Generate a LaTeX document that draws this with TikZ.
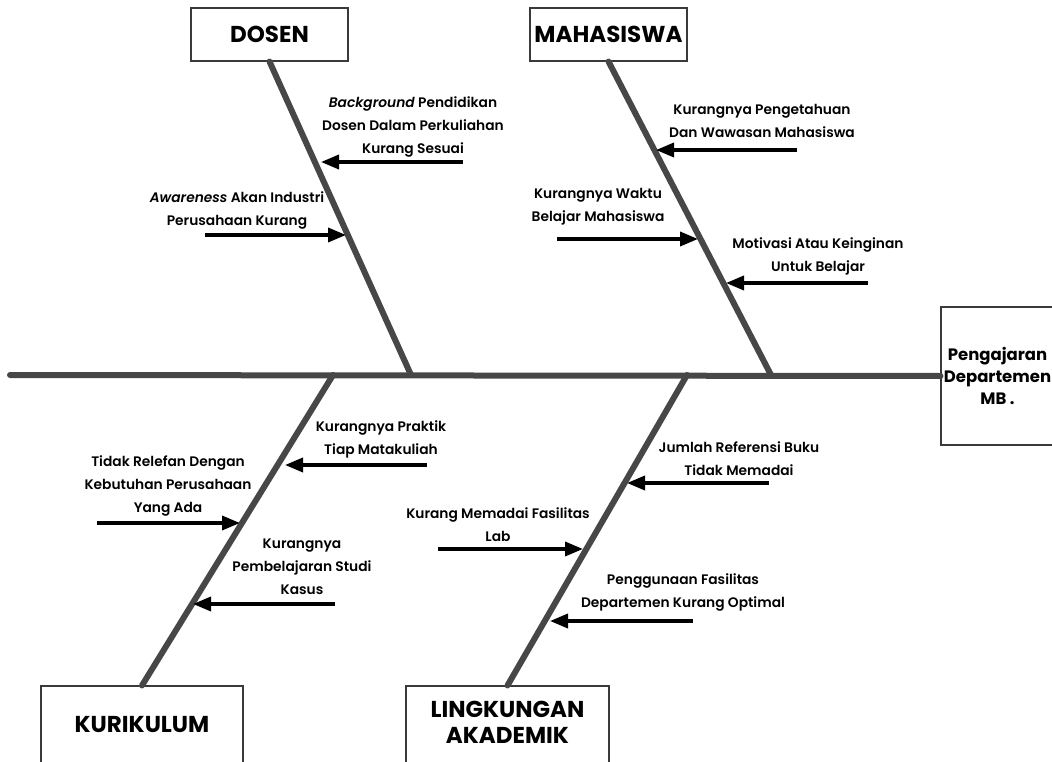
\documentclass[tikz,border=0pt]{standalone}
\usepackage{fontspec}
\setmainfont{Poppins}
\IfFontExistsTF{Poppins SemiBold}{%
  \newfontfamily\lblfont{Poppins SemiBold}}{%
  \newfontfamily\lblfont{Poppins}[UprightFont=*, ItalicFont=*, UprightFeatures={FakeBold=1.2}, ItalicFeatures={FakeBold=1.2, FakeSlant=0.2}]}
\usetikzlibrary{arrows.meta}
\definecolor{bonegray}{HTML}{474747}
\definecolor{boxgray}{HTML}{3A3A3A}
\begin{document}
\begin{tikzpicture}[x=1pt,y=-1pt,
  bone/.style={line width=6pt, draw=bonegray, line cap=round},
  cause/.style={line width=3.5pt, draw=black, -{Triangle[length=18pt,width=14pt]}},
  lbl/.style={align=center, font=\lblfont\fontsize{13.8}{23}\selectfont, inner sep=0pt},
  catbox/.style={draw=boxgray, line width=1.1pt, fill=white, inner sep=0pt, align=center,
    font=\fontsize{23}{26}\selectfont\bfseries},
  cattext/.style={inner sep=0pt, align=center, font=\fontsize{23}{26}\selectfont\bfseries},
  effbox/.style={draw=boxgray, line width=1.1pt, fill=white, inner sep=0pt, align=center,
    font=\fontsize{16.5}{22}\selectfont\bfseries}]
\clip (0,0) rectangle (1052,762);
\fill[white] (0,0) rectangle (1052,762);

% category boxes
\node[catbox, minimum width=157pt, minimum height=53pt] (dosen) at (269.5,34.5) {DOSEN};
\node[catbox, minimum width=157pt, minimum height=53pt] (mhs) at (608.5,34.5) {MAHASISWA};
\node[catbox, minimum width=202pt, minimum height=90pt] (kur) at (142,731) {};
\node[cattext] (kurT) at (142,725) {KURIKULUM};
\node[catbox, minimum width=203pt, minimum height=90pt] (lingk) at (507.5,731) {};
\node[cattext] (lingkT) at (507.5,722) {LINGKUNGAN\\AKADEMIK};
\node[effbox, minimum width=113pt, minimum height=138pt] (eff) at (997.5,376) {Pengajaran\\Departemen\\MB .};

% spine and bones
\coordinate (tail) at (10,375);
\coordinate (jD) at (411,375);
\coordinate (jM) at (771,375);
\coordinate (jK) at (333,375);
\coordinate (jL) at (687,375);
\draw[bone] (tail) -- (eff.west);
\draw[bone] (dosen.south) -- (jD);
\draw[bone] (mhs.south) -- (jM);
\draw[bone] (jK) -- (kur.north);
\draw[bone] (jL) -- (lingk.north);

% DOSEN causes
\node[lbl] (t1) at (413,127) {\textit{Background} Pendidikan\\Dosen Dalam Perkuliahan\\Kurang Sesuai};
\coordinate (a1s) at (463,162); \coordinate (a1e) at (321,162);
\draw[cause] (a1s) -- (a1e);
\node[lbl] (t2) at (237,210.5) {\textit{Awareness} Akan Industri\\Perusahaan Kurang};
\coordinate (a2s) at (205,235); \coordinate (a2e) at (346,235);
\draw[cause] (a2s) -- (a2e);

% MAHASISWA causes
\node[lbl] (t3) at (762,120.5) {Kurangnya Pengetahuan\\Dan Wawasan Mahasiswa};
\coordinate (a3s) at (797,150); \coordinate (a3e) at (656,150);
\draw[cause] (a3s) -- (a3e);
\node[lbl] (t4) at (598,207) {Kurangnya Waktu\\Belajar Mahasiswa};
\coordinate (a4s) at (557,239); \coordinate (a4e) at (698,239);
\draw[cause] (a4s) -- (a4e);
\node[lbl] (t5) at (818,256.5) {Motivasi Atau Keinginan\\Untuk Belajar};
\coordinate (a5s) at (868,283); \coordinate (a5e) at (726,283);
\draw[cause] (a5s) -- (a5e);

% KURIKULUM causes
\node[lbl] (t6) at (381,439.5) {Kurangnya Praktik\\Tiap Matakuliah};
\coordinate (a6s) at (427,465); \coordinate (a6e) at (285,465);
\draw[cause] (a6s) -- (a6e);
\node[lbl] (t7) at (168,485.5) {Tidak Relefan Dengan\\Kebutuhan Perusahaan\\Yang Ada};
\coordinate (a7s) at (97,523); \coordinate (a7e) at (240,523);
\draw[cause] (a7s) -- (a7e);
\node[lbl] (t8) at (302,566.5) {Kurangnya\\Pembelajaran Studi\\Kasus};
\coordinate (a8s) at (335,604); \coordinate (a8e) at (193,604);
\draw[cause] (a8s) -- (a8e);

% LINGKUNGAN causes
\node[lbl] (t9) at (739,458.5) {Jumlah Referensi Buku\\Tidak Memadai};
\coordinate (a9s) at (769,483); \coordinate (a9e) at (627,483);
\draw[cause] (a9s) -- (a9e);
\node[lbl] (t10) at (498,524.5) {Kurang Memadai Fasilitas\\Lab};
\coordinate (a10s) at (438,549); \coordinate (a10e) at (583,549);
\draw[cause] (a10s) -- (a10e);
\node[lbl] (t11) at (683,592.5) {Penggunaan Fasilitas\\Departemen Kurang Optimal};
\coordinate (a11s) at (693,621); \coordinate (a11e) at (550,621);
\draw[cause] (a11s) -- (a11e);
\end{tikzpicture}
\end{document}
